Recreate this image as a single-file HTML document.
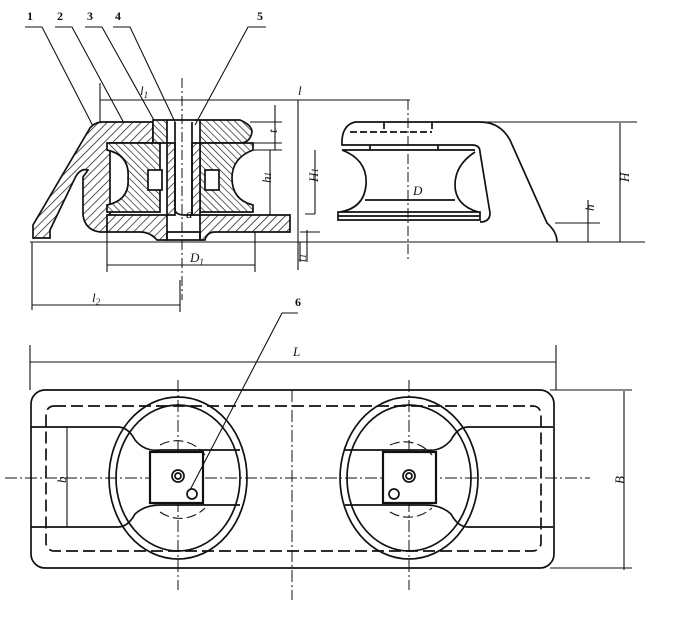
<!DOCTYPE html>
<html><head><meta charset="utf-8"><style>body{margin:0;background:#fff}svg{display:block}text{font-family:"Liberation Serif",serif;font-style:italic;font-size:13px;fill:#111}.n{font-style:normal;font-weight:bold;font-size:12px}</style></head><body>
<svg width="677" height="620" viewBox="0 0 677 620" xmlns="http://www.w3.org/2000/svg">
<defs><pattern id="h" width="6" height="6" patternUnits="userSpaceOnUse" patternTransform="rotate(45)"><rect width="6" height="6" fill="#fff"/><line x1="0" y1="0" x2="0" y2="6" stroke="#111" stroke-width="1.4"/></pattern>
<pattern id="h2" width="5" height="5" patternUnits="userSpaceOnUse" patternTransform="rotate(-45)"><rect width="5" height="5" fill="#fff"/><line x1="0" y1="0" x2="0" y2="5" stroke="#111" stroke-width="1.3"/></pattern></defs>
<g stroke="#111" fill="none" stroke-width="1.7">
<path d="M25 27H42L95 130M55 27H72L125 125M85 27H102L155 122M113 27H130L175 122M266 27H248L195 125" stroke-width="1.1"/>
<path d="M100 100H410M100 83V122M298 100V270" stroke-width="1.1"/>
<path d="M182 78V300M408 100V260" stroke-dasharray="10 3 2 3" stroke-width="1"/>
<path d="M250 122H282M250 143H282M275 105V150M210 150H282M210 215H282M270 150V215M315 150V214M305 214H315M480 122H637M620 123V242M555 223H600M588 200V242M30 242H645M32 242V310M107 232V272M255 232V272M107 265H255M32 305H180M180 280V312M300 232H320M300 242V262M307 230V262" stroke-width="1.1"/>
<path fill="url(#h)" d="M33 238V225L90 128Q95 122 103 122H153V143H110V215Q110 225 120 227H107V232H100Q85 230 83 215V177L88 170Q80 168 75 178L50 230V238Z"/>
<path fill="url(#h2)" d="M153 120H240Q252 125 252 132Q250 143 240 143H200V120M153 120H167V143H153Z"/>
<path fill="url(#h2)" d="M107 143H160V212H107V205Q130 200 128 178Q130 155 107 150Z"/>
<path fill="url(#h2)" d="M200 143H253V150Q232 158 232 178Q232 200 253 205V212H200Z"/>
<path fill="url(#h)" d="M107 215H167V240H157Q150 232 140 232H107ZM200 215H290V232H215Q207 232 205 240H200Z"/>
<path fill="url(#h)" d="M167 143H175V215H167ZM192 143H200V215H192Z"/>
<rect x="148" y="170" width="14" height="20" fill="#fff"/><rect x="205" y="170" width="14" height="20" fill="#fff"/>
<path d="M175 122V210Q176 215 185 215H192V122M167 232H200V240H167Z"/>
<path d="M355 122H480Q500 122 510 140L547 223Q557 232 557 242"/>
<path d="M355 122Q343 125 342 140V145H472Q480 145 480 152L490 213Q490 222 480 222"/>
<path d="M350 132H432M384 122V132M432 122V132" stroke-dasharray="7 3"/>
<path d="M342 150H475M342 150Q368 160 366 185Q364 208 340 212M475 152Q455 165 455 185Q455 205 478 212M338 212H480V220H338ZM338 216H480M365 200H455M370 145V150M438 145V150"/>
<rect x="31" y="390" width="523" height="178" rx="14"/>
<rect x="46" y="406" width="495" height="145" rx="8" stroke-dasharray="12 5"/>
<path d="M30 362H556M30 345V390M556 345V390M624 391V570M550 390H632M550 568H632M67 427V527" stroke-width="1.1"/>
<path d="M5 478H590M178 380V590M409 380V590M292 390V600" stroke-dasharray="12 3 2 3" stroke-width="1"/>
<ellipse cx="178" cy="478" rx="69" ry="81"/><ellipse cx="178" cy="478" rx="62" ry="73"/>
<ellipse cx="409" cy="478" rx="69" ry="81"/><ellipse cx="409" cy="478" rx="62" ry="73"/>
<path d="M31 427H118Q128 427 135 440Q145 452 160 450H240M31 527H118Q128 527 135 514Q145 505 160 505H240"/>
<path d="M553 427H468Q458 427 451 440Q441 452 426 450H345M553 527H468Q458 527 451 514Q441 505 426 505H345"/>
<rect x="150" y="452" width="53" height="51" fill="#fff" stroke-width="2.2"/>
<rect x="383" y="452" width="53" height="51" fill="#fff" stroke-width="2.2"/>
<circle cx="178" cy="476" r="6"/><circle cx="178" cy="476" r="3"/>
<circle cx="409" cy="476" r="6"/><circle cx="409" cy="476" r="3"/>
<circle cx="192" cy="494" r="5"/><circle cx="394" cy="494" r="5"/>
<path d="M160 445A35 35 0 0 1 205 455M160 512A35 35 0 0 0 205 508M390 445A35 35 0 0 1 432 455M390 512A35 35 0 0 0 432 508" stroke-dasharray="10 4" stroke-width="1.1"/>
<path d="M298 313H282L190 490" stroke-width="1.1"/>
</g>
<text class="n" x="27" y="20">1</text><text class="n" x="57" y="20">2</text><text class="n" x="87" y="20">3</text><text class="n" x="115" y="20">4</text><text class="n" x="257" y="20">5</text><text class="n" x="295" y="306">6</text>
<text x="140" y="95">l<tspan font-size="9" dy="3">1</tspan></text><text x="298" y="95">l</text>
<text x="270" y="134" transform="rotate(-90 273 130)">t</text>
<text x="258" y="180" transform="rotate(-90 266 175)">h<tspan font-size="9">1</tspan></text>
<text x="306" y="180" transform="rotate(-90 313 175)">H<tspan font-size="9">1</tspan></text>
<text x="413" y="195">D</text><text x="186" y="218">d</text>
<text x="617" y="180" transform="rotate(-90 624 175)">H</text>
<text x="585" y="210" transform="rotate(-90 590 206)">h</text>
<text x="296" y="260" transform="rotate(-90 302 256)">t<tspan font-size="9">1</tspan></text>
<text x="190" y="262">D<tspan font-size="9" dy="3">1</tspan></text>
<text x="92" y="302">l<tspan font-size="9" dy="3">2</tspan></text>
<text x="293" y="356">L</text>
<text x="57" y="482" transform="rotate(-90 62 478)">b</text>
<text x="614" y="482" transform="rotate(-90 620 478)">B</text>
</svg>
</body></html>
